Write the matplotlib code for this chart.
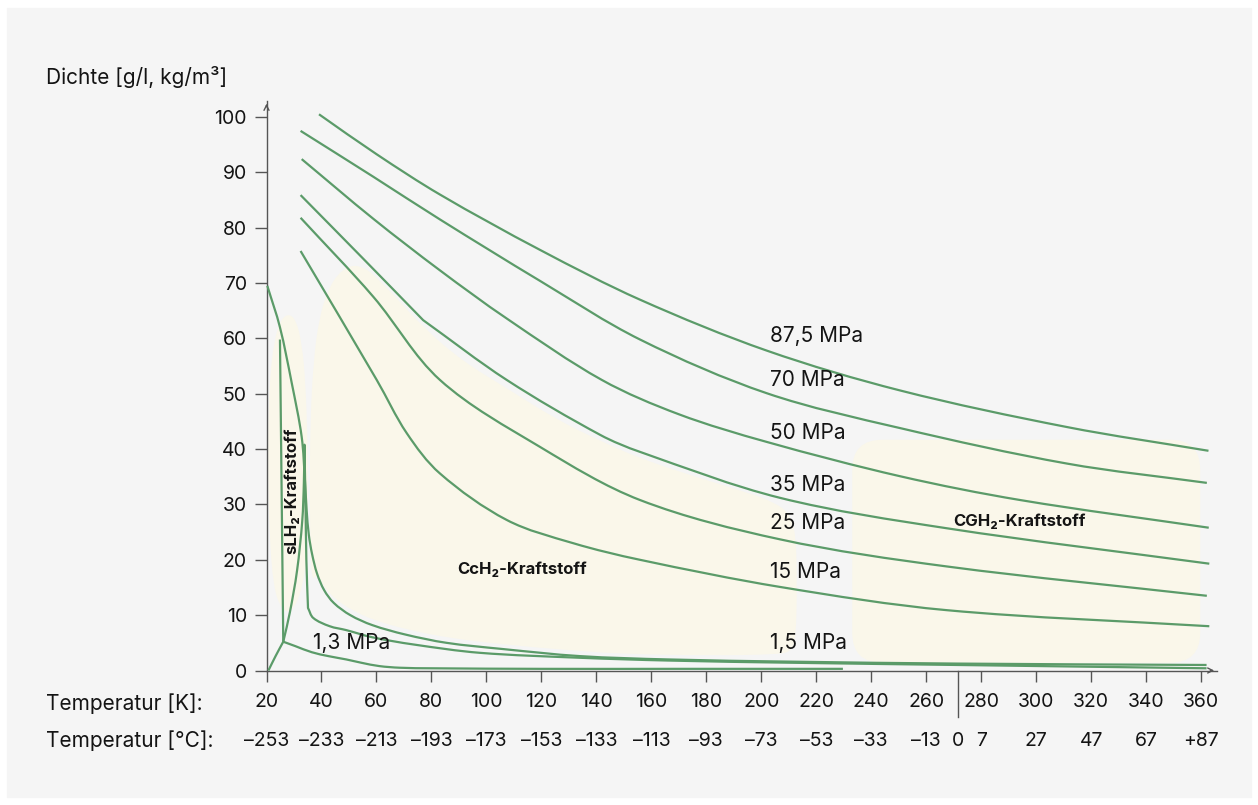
import matplotlib
matplotlib.use("Agg")
import matplotlib.pyplot as plt
import numpy as np
from matplotlib.path import Path
from matplotlib.patches import PathPatch, FancyBboxPatch, Rectangle
from matplotlib.transforms import blended_transform_factory

# isobars: temperature [K] and density [g/l]
p875_K = [39.1, 60, 83.1, 119.5, 155.9, 202.0, 250.5, 311.1, 362.7]
p875_v = [100.5, 93.3, 86.0, 76.0, 67.0, 57.8, 50.6, 44.0, 39.7]
p70_K = [32.4, 58.9, 83.1, 119.5, 155.9, 202.0, 250.5, 311.1, 362.1]
p70_v = [97.5, 89.2, 81.5, 70.4, 59.8, 50.1, 43.8, 37.4, 33.9]
p50_K = [32.8, 58.9, 83.1, 107.4, 142.0, 170.0, 202.0, 250.5, 294.2, 362.8]
p50_v = [92.4, 81.6, 72.3, 63.6, 52.5, 46.3, 41.3, 35.1, 30.8, 25.8]
p35_K = [32.4, 55.0, 77.0, 107.4, 141.3, 155.9, 206.8, 267.5, 363.0]
p35_v = [85.9, 74.5, 63.3, 52.5, 42.6, 39.5, 31.2, 25.7, 19.3]
p25_K = [32.4, 58.9, 83.1, 119.5, 155.9, 206.8, 267.5, 362.1]
p25_v = [81.8, 67.5, 52.5, 40.4, 30.8, 23.7, 18.8, 13.5]
p15_K = [32.4, 60.1, 71.0, 83.1, 107.4, 131.6, 155.9, 206.8, 267.5, 363.0]
p15_v = [75.8, 52.5, 42.9, 35.6, 27.2, 23.0, 20.0, 15.1, 10.9, 8.0]

# low pressure / saturation lines
la_K = [20.3, 24.9, 29.2, 32.8, 34.0, 34.6, 35.4, 36.6, 38.4, 41, 44.5, 50.5,
        58.5, 70.5, 85.5, 105.5, 134, 166, 211, 271, 362]
la_v = [69.5, 62, 51.9, 42.2, 34.2, 29, 24.5, 21, 17.5, 14.5, 12.2, 10.0,
        8.2, 6.5, 5.0, 3.9, 2.6, 2.0, 1.6, 1.25, 1.0]
lb_K = [26.1, 28.5, 31.1, 33.0, 33.6, 33.8, 34.2, 34.5, 35.1, 37.0, 43, 49,
        58.5, 73.5, 97.5, 134, 166, 211, 271, 362]
lb_v = [5.2, 10.5, 18, 27, 34, 40.8, 30, 20, 11.3, 9.5, 8.0, 7.3,
        6.0, 4.7, 3.2, 2.3, 1.8, 1.4, 1.0, 0.4]
lc_K = [20.7, 23.3, 26.1, 30.5, 36.5, 42.5, 49, 54.5, 61, 68.5, 80, 120, 170, 229.7]
lc_v = [0, 2.6, 5.2, 4.4, 3.3, 2.6, 2.0, 1.4, 0.8, 0.5, 0.4, 0.3, 0.3, 0.3]
ls_K = [24.9, 26.1]
ls_v = [59.8, 5.2]

# (K, v, indices where the line has a sharp corner)
isobars = [(p875_K, p875_v, ()), (p70_K, p70_v, ()), (p50_K, p50_v, ()),
           (p35_K, p35_v, (2,)), (p25_K, p25_v, ()), (p15_K, p15_v, ()),
           (la_K, la_v, ()), (lb_K, lb_v, (5, 8)), (lc_K, lc_v, (2,)),
           (ls_K, ls_v, ())]

press_labels = ["87,5 MPa", "70 MPa", "50 MPa", "35 MPa", "25 MPa", "15 MPa", "1,5 MPa"]
press_label_v = [60.4, 52.5, 42.9, 33.5, 26.7, 17.8, 5.0]

# fuel regions (outlines)
slh2_area = [(20.6, 45), (21.2, 53), (22.8, 59.5), (25, 63.3), (28, 64.5), (30.8, 63.3),
             (32.9, 59), (34.2, 52), (34.9, 42), (35.1, 30), (34.6, 20), (32.6, 14),
             (29, 10.5), (25.5, 11), (22.5, 15), (21, 25), (20.6, 35)]
cch2_area = [(36.2, 16), (35.7, 30), (35.9, 45), (37.1, 56), (39.1, 63.5), (42.1, 68.5),
             (46.1, 71.8), (51, 73.3), (55.5, 72.8), (59, 71.5), (66, 68), (77, 62),
             (91, 56), (107.4, 51), (125, 45.5), (141.3, 41.5), (156, 38.3), (176, 35),
             (196, 32), (205, 30.3), (210, 28.5), (212.6, 25), (213, 15), (212.6, 6),
             (211, 3.6), (207, 2.9), (180, 2.7), (150, 3.0), (134, 3.5), (106, 4.7),
             (86, 5.9), (71, 7.4), (59, 9.1), (51, 10.9), (45, 12.9), (41, 15), (38.5, 17.5)]
cgh2_box = (233.1, 1.4, 359.7, 41.7)

k_ticks = list(range(20, 361, 20))
c_pos = k_ticks[:13] + [271.7] + k_ticks[13:]
c_labels = ["\u2013253", "\u2013233", "\u2013213", "\u2013193", "\u2013173", "\u2013153",
            "\u2013133", "\u2013113", "\u201393", "\u201373", "\u201353", "\u201333",
            "\u201313", "0", "7", "27", "47", "67", "+87"]
y_ticks = list(range(0, 101, 10))

green = "#5b9b69"
cream = "#faf7ea"
axc = "#555555"
txt = "#141414"
fs = 14
fs_lab = 15

plt.rcParams["font.family"] = ["Inter", "DejaVu Sans"]

W, H = 1258, 805
fig = plt.figure(figsize=(W / 100, H / 100), dpi=100)
fig.patch.set_facecolor("white")
fig.patches.append(Rectangle((7 / W, 8 / H), 1 - 14 / W, 1 - 16 / H,
                             transform=fig.transFigure, color="#f5f5f5", zorder=-10))

ax = fig.add_axes([266.5 / W, (H - 670.5) / H, (1217 - 266.5) / W, (670.5 - 101) / H])
ax.set_facecolor("none")
ax.set_xlim(20, 365.8)
ax.set_ylim(0, 102.9)

SX, SY = 2.7485, 5.534  # rough px per unit, used only to shape the curves


def blob(pts):
    pts = np.asarray(pts, float)
    mids = (pts + np.roll(pts, -1, axis=0)) / 2
    verts = [mids[-1]]
    codes = [Path.MOVETO]
    for i in range(len(pts)):
        verts += [pts[i], mids[i]]
        codes += [Path.CURVE3, Path.CURVE3]
    return Path(verts, codes)


def curve(ks, vs, corners=()):
    # smooth bezier through the read points
    P = np.column_stack([np.asarray(ks, float) * SX, np.asarray(vs, float) * SY])
    n = len(P)
    verts = [P[0]]
    codes = [Path.MOVETO]
    for i in range(n - 1):
        seg = np.hypot(*(P[i + 1] - P[i]))
        if i == 0 or i in corners:
            t0 = P[i + 1] - P[i]
        else:
            t0 = P[i + 1] - P[i - 1]
        if i + 1 == n - 1 or (i + 1) in corners:
            t1 = P[i + 1] - P[i]
        else:
            t1 = P[i + 2] - P[i]
        t0 = t0 / np.hypot(*t0)
        t1 = t1 / np.hypot(*t1)
        verts += [P[i] + t0 * seg / 3, P[i + 1] - t1 * seg / 3, P[i + 1]]
        codes += [Path.CURVE4] * 3
    verts = np.array(verts) / [SX, SY]
    return Path(verts, codes)


ax.add_patch(PathPatch(blob(slh2_area), facecolor=cream, edgecolor="none", zorder=1))
ax.add_patch(PathPatch(blob(cch2_area), facecolor=cream, edgecolor="none", zorder=1))
x0, y0, x1, y1 = cgh2_box
ax.add_patch(FancyBboxPatch((x0, y0), x1 - x0, y1 - y0,
                            boxstyle="round,pad=0,rounding_size=11",
                            mutation_aspect=5.4 / 11, facecolor=cream,
                            edgecolor="none", zorder=1))

for ks, vs, cn in isobars:
    ax.add_patch(PathPatch(curve(ks, vs, cn), facecolor="none", edgecolor=green,
                           lw=1.6, zorder=3, clip_on=False, joinstyle="round",
                           capstyle="butt"))

for lab, v in zip(press_labels, press_label_v):
    ax.text(203.2, v, lab, fontsize=fs_lab, color=txt, va="center", ha="left", zorder=4)
ax.text(36.9, 5.0, "1,3 MPa", fontsize=fs_lab, color=txt, va="center", ha="left", zorder=4)

ax.text(29.3, 32.4, "sLH\u2082-Kraftstoff", fontsize=12, fontweight="bold", color=txt,
        rotation=90, ha="center", va="center", zorder=4)
ax.text(113.1, 18.3, "CcH\u2082-Kraftstoff", fontsize=12, fontweight="bold", color=txt,
        ha="center", va="center", zorder=4)
ax.text(293.8, 26.9, "CGH\u2082-Kraftstoff", fontsize=12, fontweight="bold", color=txt,
        ha="center", va="center", zorder=4)

# axes
for s in ["top", "right"]:
    ax.spines[s].set_visible(False)
for s in ["left", "bottom"]:
    ax.spines[s].set_color(axc)
    ax.spines[s].set_linewidth(1.0)
ax.set_yticks(y_ticks)
ax.set_xticks(k_ticks)
ax.set_xticklabels([str(k) for k in k_ticks])
ax.tick_params(axis="y", direction="out", length=8.6, width=1, color=axc,
               labelsize=fs, labelcolor=txt, pad=5.5)
ax.tick_params(axis="x", direction="out", length=8, width=1, color=axc,
               labelsize=fs, labelcolor=txt, pad=8)

ax.annotate("", xy=(1, 0), xycoords="axes fraction", xytext=(0.99, 0),
            arrowprops=dict(arrowstyle="->", color=axc, lw=1, mutation_scale=9))
ax.annotate("", xy=(0, 1), xycoords="axes fraction", xytext=(0, 0.985),
            arrowprops=dict(arrowstyle="->", color=axc, lw=1, mutation_scale=9))

# separator at 0 degC
trans = blended_transform_factory(ax.transData, ax.transAxes)
ax.plot([271.7, 271.7], [0, -(717 - 670.5) / 569.5], color=axc, lw=1,
        transform=trans, clip_on=False)

# Celsius row
tr_c = blended_transform_factory(ax.transData, fig.transFigure)
for p, lab in zip(c_pos, c_labels):
    ax.text(p, 1 - 741 / H, lab, transform=tr_c, fontsize=fs, color=txt,
            ha="center", va="center")

fig.text(46 / W, 1 - 704 / H, "Temperatur [K]:", fontsize=fs_lab, color=txt, va="center")
fig.text(46 / W, 1 - 741 / H, "Temperatur [\u00b0C]:", fontsize=fs_lab, color=txt, va="center")
fig.text(46 / W, 1 - 76.5 / H, "Dichte [g/l, kg/m\u00b3]", fontsize=fs_lab, color=txt, va="center")

fig.savefig("out.png", dpi=100, facecolor=fig.get_facecolor())
